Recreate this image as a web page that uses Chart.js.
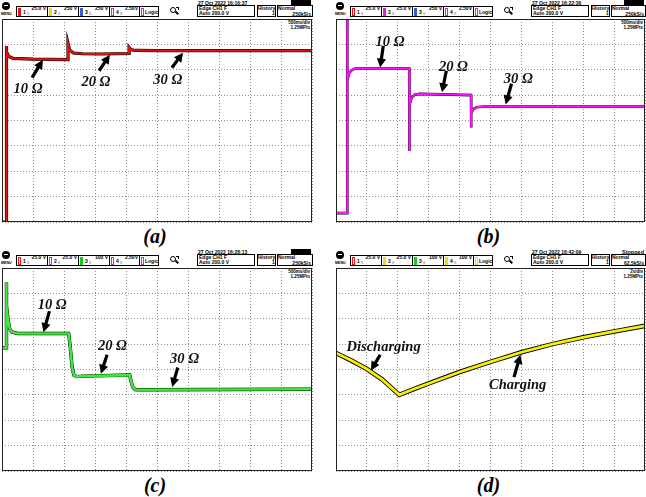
<!DOCTYPE html>
<html><head><meta charset="utf-8">
<script src="https://cdn.jsdelivr.net/npm/chart.js@4.4.0/dist/chart.umd.min.js"></script>
<style>
html,body{margin:0;padding:0;background:#fff;}
#root{position:relative;width:646px;height:497px;overflow:hidden;font-family:"Liberation Sans",Arial,sans-serif;}
canvas{position:absolute;}
.t{position:absolute;font-size:5px;line-height:5px;font-weight:bold;white-space:nowrap;color:#000;}
.box{position:absolute;border:1px solid #000;box-sizing:border-box;background:#fff;}
.lbl{position:absolute;font-family:"Liberation Serif","DejaVu Serif",serif;font-weight:bold;font-style:italic;font-size:14.5px;line-height:14px;white-space:nowrap;color:#111;transform:translate(-50%,-50%);}
.cap{position:absolute;font-family:"Liberation Serif","DejaVu Serif",serif;font-weight:bold;font-style:italic;font-size:20px;line-height:20px;white-space:nowrap;transform:translate(-50%,-50%);}
</style></head><body><div id="root"></div>
<script>
// ---------- data (division units: x 0..10, y 0..8) ----------
const captions = ['(a)', '(b)', '(c)', '(d)'];

const xA = [0, 0.13, 0.13, 0.16, 0.22, 0.35, 1.0, 2.13, 2.13, 2.18, 2.3, 2.6, 3.2, 4.1, 4.1, 4.15, 4.3, 5.0, 10];
const yA = [0, 0, 6.94, 6.7, 6.52, 6.45, 6.42, 6.40, 7.03, 6.78, 6.66, 6.63, 6.62, 6.64, 6.88, 6.8, 6.76, 6.75, 6.75];

const xB = [0, 0.36, 0.36, 0.37, 0.42, 0.5, 0.6, 0.8, 2.37, 2.37, 2.38, 2.45, 2.55, 2.7, 4.37, 4.37, 4.38, 4.45, 4.55, 4.8, 10];
const yB = [0.35, 0.35, 8, 5.6, 5.85, 5.98, 6.04, 6.06, 6.05, 2.8, 4.6, 4.9, 5.02, 5.05, 5.0, 3.72, 4.3, 4.45, 4.52, 4.55, 4.55];

const xC = [0, 0.13, 0.13, 0.16, 0.2, 0.25, 0.32, 0.5, 2.15, 2.2, 2.26, 2.32, 2.4, 2.6, 4.12, 4.16, 4.22, 4.3, 4.4, 10];
const yC = [4.86, 4.86, 7.44, 6.5, 5.9, 5.6, 5.48, 5.42, 5.42, 4.9, 4.1, 3.78, 3.72, 3.74, 3.78, 3.55, 3.3, 3.21, 3.2, 3.22];

const xD = [0, 0.5, 1.0, 1.5, 2.05, 2.5, 3, 4, 5, 6, 7, 8, 9, 10];
const yD = [4.65, 4.35, 4.02, 3.6, 3.0, 3.22, 3.45, 3.9, 4.3, 4.68, 5.0, 5.27, 5.5, 5.72];

// annotations: [text, labelX, labelY, tailX, tailY, tipX, tipY]
const annA = [['10 Ω', 0.84, 5.29, 0.97, 5.69, 1.32, 6.39], ['20 Ω', 3.03, 5.57, 3.13, 5.96, 3.48, 6.59], ['30 Ω', 5.35, 5.65, 5.48, 6.08, 5.84, 6.67]];
const annB = [['10 Ω', 1.75, 7.14, 1.53, 6.94, 1.43, 6.09], ['20 Ω', 3.8, 6.16, 3.57, 5.96, 3.43, 5.11], ['30 Ω', 5.9, 5.69, 5.68, 5.45, 5.49, 4.63]];
const annC = [['10 Ω', 1.62, 6.58, 1.53, 6.3, 1.34, 5.47], ['20 Ω', 3.56, 4.98, 3.39, 4.58, 3.19, 3.83], ['30 Ω', 5.89, 4.45, 5.67, 4.08, 5.49, 3.31]];
const annD = [['Discharging', 1.54, 4.94, 1.43, 4.58, 1.13, 3.96], ['Charging', 5.88, 3.44, 5.76, 3.7, 5.97, 4.58]];

// header texts
const chanScales = [['25.0 V', '250 V', '250 V', '2.50V'], ['25.0 V', '25.0 V', '250 V', '2.50V'], ['25.0 V', '25.0 V', '100 V', '2.50V'], ['25.0 V', '25.0 V', '100 V', '100 V']];
const dates = ['27 Oct 2022  16:16:37', '27 Oct 2022  16:22:36', '27 Oct 2022  16:28:13', '27 Oct 2022  16:42:09'];
const trigLine1 = ['Edge CH1 F', 'Edge CH1 F', 'Edge CH1 F', 'Edge CH1 F'];
const trigLine2 = ['Auto 200.0 V', 'Auto 200.0 V', 'Auto 200.0 V', 'Auto 200.0 V'];
const sampleRates = ['250kS/s', '250kS/s', '250kS/s', '62.5kS/s'];
const timeBases = ['500ms/div', '500ms/div', '500ms/div', '2s/div'];
const memDepths = ['1.25MPts', '1.25MPts', '1.25MPts', '1.25MPts'];
const runState = ['', '', '', 'Stopped'];

// ---------- styles / layout ----------
const RED = '#e8141c', YEL = '#eadc10', BLU = '#3a5bd8', MAG = '#e020e0', GRN = '#19c819';
const chanColors = [[RED, YEL, BLU, MAG, MAG], [RED, MAG, BLU, MAG, MAG], [RED, MAG, GRN, MAG, MAG], [RED, YEL, GRN, YEL, YEL]];
const chanFilled = [[1, 1, 1, 0, 0], [0, 1, 1, 0, 0], [0, 0, 1, 0, 0], [0, 1, 1, 1, 0]];
const traceColors = ['#e41010', '#ff10ff', '#3ee83e', '#f8f200'];
const traceW = [2.2, 2.0, 2.6, 2.8];
const edgeW = [3.2, 2.6, 3.4, 4.6];
const layout = [{ox: 0, oy: 0, pw: 310}, {ox: 334, oy: 0, pw: 309}, {ox: 0, oy: 249, pw: 310}, {ox: 334, oy: 249, pw: 309}];
const PH = 203;

const root = document.getElementById('root');
function mk(cls, css, text) {
  const e = document.createElement('div');
  if (cls) e.className = cls;
  e.style.position = 'absolute';
  for (const k in css) e.style[k] = (typeof css[k] === 'number') ? css[k] + 'px' : css[k];
  if (text != null) e.textContent = text;
  root.appendChild(e);
  return e;
}

function header(i, ox, oy, pw) {
  // MENU icon
  mk('', {left: ox + 2, top: oy + 2, width: 8, height: 8, borderRadius: '50%', background: '#000'});
  mk('', {left: ox + 4, top: oy + 5, width: 4, height: 1.2, background: '#fff'});
  mk('t', {left: ox + 1, top: oy + 12, fontSize: '3.6px', lineHeight: '4px'}, 'MENU');
  // channel cells
  const cl = [16, 47, 78, 109, 139], cw = [32, 32, 32, 31, 20];
  for (let k = 0; k < 5; k++) {
    const L = ox + cl[k], T = oy + 6;
    mk('box', {left: L, top: T, width: cw[k], height: 11});
    const col = chanColors[i][k];
    mk('', {left: L + 1.5, top: T + 1.5, width: 3.5, height: 8, boxSizing: 'border-box', border: '1px solid ' + col, background: chanFilled[i][k] ? col : '#fff'});
    if (k < 4) {
      mk('t', {left: L + 7, top: T + 3.5}, String(k + 1));
      mk('t', {left: L + 11, top: T + 5.5, fontSize: '4px', lineHeight: '4px'}, '≡');
      mk('t', {left: L, width: cw[k] - 2, textAlign: 'right', top: T - 0.5}, chanScales[i][k]);
    } else {
      mk('t', {left: L + 6, top: T + 3.5}, 'Logic');
    }
  }
  // magnifier icon
  mk('', {left: ox + 170, top: oy + 7, width: 6, height: 6, borderRadius: '50%', border: '1.3px solid #000', boxSizing: 'border-box'});
  mk('', {left: ox + 175, top: oy + 12, width: 4, height: 1.6, background: '#000', transform: 'rotate(45deg)'});
  mk('', {left: ox + 176, top: oy + 7, width: 2.5, height: 2.5, borderTop: '1px solid #000', borderRight: '1px solid #000', boxSizing: 'border-box'});
  // date
  mk('t', {left: ox + 198, top: oy + 0.5}, dates[i]);
  // trigger box
  mk('box', {left: ox + 197, top: oy + 5, width: 58, height: 12});
  mk('t', {left: ox + 199, top: oy + 5.8}, trigLine1[i]);
  mk('t', {left: ox + 199, top: oy + 11}, trigLine2[i]);
  // history box
  mk('box', {left: ox + 257, top: oy + 5, width: 19, height: 12});
  mk('t', {left: ox + 258, top: oy + 5.8}, 'History');
  mk('t', {left: ox + 272, top: oy + 11}, '1');
  // acquisition box
  const rEdge = ox + 2 + pw;
  mk('box', {left: ox + 277, top: oy + 5, width: rEdge - ox - 277 + 1, height: 12});
  mk('t', {left: ox + 278, top: oy + 5.8}, 'Normal');
  mk('t', {left: ox + 280, width: rEdge - ox - 281, textAlign: 'right', top: oy + 11.5}, sampleRates[i]);
  if (runState[i]) {
    mk('t', {left: ox + 280, width: rEdge - ox - 281, textAlign: 'right', top: oy + 1, fontSize: '5.5px'}, runState[i]);
  } else {
    mk('', {left: rEdge - 21, top: oy, width: 20, height: 4.5, background: '#000'});
  }
  // inside plot, top right
  mk('t', {left: rEdge - 40, width: 38, textAlign: 'right', top: oy + 20, fontSize: '4.5px'}, timeBases[i]);
  mk('t', {left: rEdge - 40, width: 38, textAlign: 'right', top: oy + 25, fontSize: '4.5px'}, memDepths[i]);
}

function arrow(ctx, x1, y1, x2, y2) {
  const a = Math.atan2(y2 - y1, x2 - x1), hl = 9, hw = 4.6;
  const bx = x2 - hl * Math.cos(a), by = y2 - hl * Math.sin(a);
  ctx.save();
  ctx.strokeStyle = '#000'; ctx.lineWidth = 3.2; ctx.lineCap = 'butt';
  ctx.beginPath(); ctx.moveTo(x1, y1); ctx.lineTo(bx + Math.cos(a), by + Math.sin(a)); ctx.stroke();
  ctx.fillStyle = '#000';
  ctx.beginPath(); ctx.moveTo(x2, y2);
  ctx.lineTo(bx + hw * Math.sin(a), by - hw * Math.cos(a));
  ctx.lineTo(bx - hw * Math.sin(a), by + hw * Math.cos(a));
  ctx.closePath(); ctx.fill();
  ctx.restore();
}

const xs = [xA, xB, xC, xD], ys = [yA, yB, yC, yD], anns = [annA, annB, annC, annD];

for (let i = 0; i < 4; i++) {
  const {ox, oy, pw} = layout[i];
  const px = ox + 2, py = oy + 19;
  header(i, ox, oy, pw);
  const cv = document.createElement('canvas');
  cv.width = pw + 2; cv.height = PH + 2;
  cv.style.left = (px - 1) + 'px'; cv.style.top = (py - 1) + 'px';
  cv.style.width = (pw + 2) + 'px'; cv.style.height = (PH + 2) + 'px';
  root.appendChild(cv);
  const pts = xs[i].map((x, k) => ({x: x, y: ys[i][k]}));
  const ann = anns[i];
  const gridCfg = {color: '#909090', lineWidth: 1, drawTicks: false};
  const chart = new Chart(cv, {
    type: 'line',
    data: {datasets: [
      {data: pts, borderColor: traceColors[i], borderWidth: traceW[i], pointRadius: 0, tension: 0, fill: false},
      {data: pts, borderColor: '#000', borderWidth: edgeW[i], pointRadius: 0, tension: 0, fill: false}
    ]},
    options: {
      responsive: false, animation: false, devicePixelRatio: 1,
      layout: {padding: 1},
      plugins: {legend: {display: false}, tooltip: {enabled: false}},
      scales: {
        x: {type: 'linear', min: 0, max: 10, ticks: {display: false, stepSize: 1}, grid: gridCfg, border: {display: false, dash: [1, 2]}},
        y: {type: 'linear', min: 0, max: 8, ticks: {display: false, stepSize: 1}, grid: gridCfg, border: {display: false, dash: [1, 2]}}
      }
    },
    plugins: [{
      id: 'frameAnn',
      afterDatasetsDraw(c) {
        const ctx = c.ctx, sx = c.scales.x, sy = c.scales.y;
        ann.forEach(a => arrow(ctx, sx.getPixelForValue(a[3]), sy.getPixelForValue(a[4]), sx.getPixelForValue(a[5]), sy.getPixelForValue(a[6])));
        const ca = c.chartArea;
        ctx.save(); ctx.strokeStyle = '#222'; ctx.lineWidth = 1;
        ctx.strokeRect(ca.left + 0.5, ca.top + 0.5, ca.right - ca.left - 1, ca.bottom - ca.top - 1);
        ctx.restore();
      }
    }]
  });
  const sx = chart.scales.x, sy = chart.scales.y;
  ann.forEach(a => {
    mk('lbl', {left: px - 1 + sx.getPixelForValue(a[1]), top: py - 1 + sy.getPixelForValue(a[2])}, a[0]);
  });
  mk('cap', {left: px + pw / 2 - 2, top: py + PH + 14}, captions[i]);
}
</script>
</body></html>
